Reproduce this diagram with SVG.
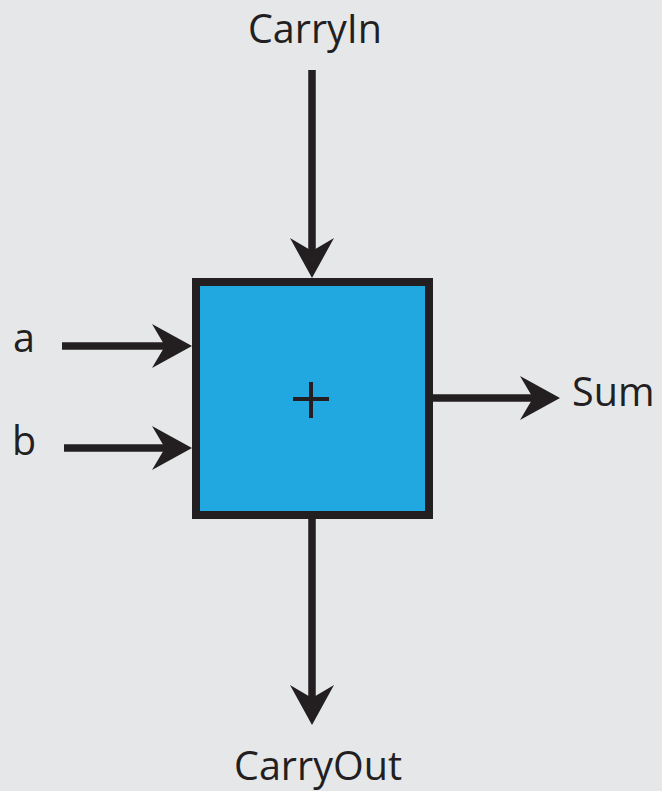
<svg xmlns="http://www.w3.org/2000/svg" width="662" height="791" viewBox="0 0 662 791">
<style>
.bg{fill:#e6e7e9}
.box{fill:#22a8e0;stroke:#231f20;stroke-width:8}
.wire{stroke:#231f20;stroke-width:7.5;fill:none;marker-end:url(#arr)}
.lbl{font-family:"Open Sans","Liberation Sans",sans-serif;font-size:39.5px;fill:#231f20}
.plus{stroke:#231f20;stroke-width:4;fill:none}
</style>
<defs>
<marker id="arr" markerUnits="userSpaceOnUse" viewBox="-41 -23 42 46" markerWidth="42" markerHeight="46" refX="-20" refY="0" orient="auto" overflow="visible">
<path d="M0,0 L-40,-22 L-27,0 L-40,22 Z" fill="#231f20"/>
</marker>
</defs>
<rect class="bg" x="0" y="0" width="662" height="791"/>
<g id="connectors">
<line class="wire" x1="312" y1="70" x2="312" y2="258"/>
<line class="wire" x1="62" y1="346" x2="172" y2="346"/>
<line class="wire" x1="64" y1="448" x2="172" y2="448"/>
<line class="wire" x1="433" y1="398" x2="540" y2="398"/>
<line class="wire" x1="312" y1="519" x2="312" y2="705"/>
</g>
<g id="adder">
<rect class="box" x="196" y="282" width="233" height="233"/>
<path class="plus" d="M293,399 H329 M311,382 V418"/>
</g>
<g id="carryin"><text class="lbl" x="315" y="43" text-anchor="middle">CarryIn</text></g>
<g id="a"><text class="lbl" x="13" y="352">a</text></g>
<g id="b"><text class="lbl" x="12" y="455">b</text></g>
<g id="sum"><text class="lbl" x="572" y="406">Sum</text></g>
<g id="carryout"><text class="lbl" x="318" y="780" text-anchor="middle">CarryOut</text></g>
</svg>
